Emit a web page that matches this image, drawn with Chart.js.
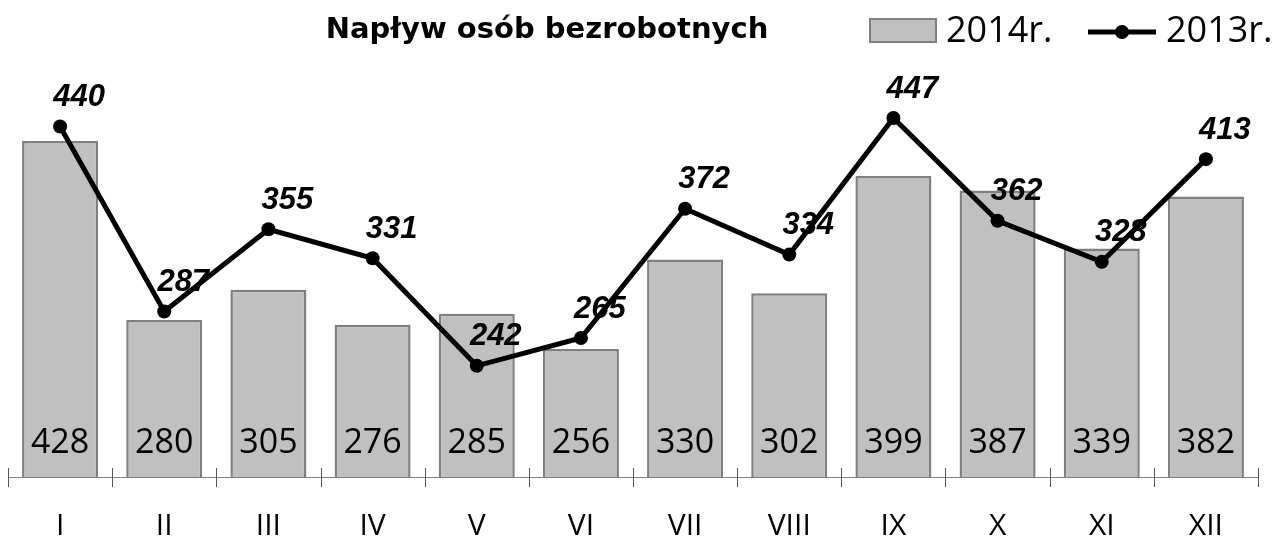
<!DOCTYPE html>
<html lang="pl">
<head>
<meta charset="utf-8">
<title>Napływ osób bezrobotnych</title>
<script src="https://cdn.jsdelivr.net/npm/chart.js@4.4.1/dist/chart.umd.min.js"></script>
<style>
  html, body { margin: 0; padding: 0; background: #fff; }
  #wrap { position: relative; width: 1285px; height: 538px; }
</style>
</head>
<body>
<div id="wrap"><canvas id="inflowChart" width="1285" height="538"></canvas></div>
<script>
// ---- data ----
const months = ["I", "II", "III", "IV", "V", "VI", "VII", "VIII", "IX", "X", "XI", "XII"];
const inflow2014 = [428, 280, 305, 276, 285, 256, 330, 302, 399, 387, 339, 382];
const inflow2013 = [440, 287, 355, 331, 242, 265, 372, 334, 447, 362, 328, 413];
const chartTitle = "Napływ osób bezrobotnych";
const seriesNames = ["2014r.", "2013r."];

const BAR_FILL = "#c0c0c0";
const BAR_EDGE = "#808080";
const LINE_COL = "#000000";

// tick marks between categories, crossing the axis line
const crossTicks = {
    id: 'crossTicks',
    afterDraw(chart) {
        const x = chart.scales.x, ctx = chart.ctx;
        const half = (x.getPixelForValue(1) - x.getPixelForValue(0)) / 2;
        const yb = chart.chartArea.bottom;
        ctx.save();
        ctx.strokeStyle = '#555';
        ctx.lineWidth = 1;
        for (let i = 0; i <= months.length; i++) {
            const px = Math.round(x.getPixelForValue(i) - half) + 0.5;
            ctx.beginPath();
            ctx.moveTo(px, yb - 9);
            ctx.lineTo(px, yb + 10);
            ctx.stroke();
        }
        ctx.restore();
    }
};

// value labels: plain ones at the foot of bars, bold italic above line points
const valueLabels = {
    id: 'valueLabels',
    afterDatasetsDraw(chart) {
        const ctx = chart.ctx;
        const bars = chart.getDatasetMeta(0).data;
        const pts = chart.getDatasetMeta(1).data;
        ctx.save();
        ctx.fillStyle = '#000';
        ctx.textAlign = 'center';
        ctx.textBaseline = 'middle';
        ctx.font = '34px "Open Sans"';
        bars.forEach((b, i) => ctx.fillText(inflow2014[i], b.x, chart.chartArea.bottom - 34));
        ctx.font = 'italic bold 31px "Liberation Sans"';
        pts.forEach((p, i) => ctx.fillText(inflow2013[i], p.x + 19, p.y - 29));
        ctx.restore();
    }
};

// title and legend share one row at the top
const headerRow = {
    id: 'headerRow',
    afterDraw(chart) {
        const ctx = chart.ctx;
        ctx.save();
        ctx.fillStyle = '#000';
        ctx.textBaseline = 'middle';
        ctx.textAlign = 'center';
        ctx.font = 'bold 29px "DejaVu Sans"';
        ctx.fillText(chartTitle, 547, 30);

        // bar key
        ctx.fillStyle = BAR_FILL;
        ctx.strokeStyle = BAR_EDGE;
        ctx.lineWidth = 2;
        ctx.fillRect(870, 19, 66, 23);
        ctx.strokeRect(870, 19, 66, 23);
        ctx.fillStyle = '#000';
        ctx.textAlign = 'left';
        ctx.font = '36px "Open Sans"';
        ctx.fillText(seriesNames[0], 946, 32);

        // line key
        ctx.strokeStyle = LINE_COL;
        ctx.lineWidth = 5;
        ctx.beginPath();
        ctx.moveTo(1088, 32);
        ctx.lineTo(1156, 32);
        ctx.stroke();
        ctx.beginPath();
        ctx.arc(1122, 32, 7, 0, Math.PI * 2);
        ctx.fill();
        ctx.fillText(seriesNames[1], 1166, 32);
        ctx.restore();
    }
};

new Chart(document.getElementById('inflowChart'), {
    data: {
        labels: months,
        datasets: [{
            type: 'bar',
            label: seriesNames[0],
            data: inflow2014,
            backgroundColor: BAR_FILL,
            borderColor: BAR_EDGE,
            borderWidth: 2.5,
            categoryPercentage: 1,
            barPercentage: 0.73,
            order: 2
        }, {
            type: 'line',
            label: seriesNames[1],
            data: inflow2013,
            borderColor: LINE_COL,
            backgroundColor: LINE_COL,
            borderWidth: 5,
            pointRadius: 7,
            pointBackgroundColor: LINE_COL,
            pointBorderWidth: 0,
            tension: 0,
            order: 1
        }]
    },
    options: {
        responsive: false,
        animation: false,
        layout: { padding: { top: 54, left: 8, right: 27, bottom: 0 } },
        scales: {
            x: {
                offset: true,
                grid: { display: false, drawTicks: false },
                border: { display: true, color: BAR_EDGE, width: 1 },
                ticks: { color: '#000', font: { family: 'Open Sans', size: 30 }, padding: 31 },
                afterFit(s) { s.height = 61; }
            },
            y: {
                display: false,
                min: 150,
                max: 500
            }
        },
        plugins: {
            legend: { display: false },
            title: { display: false },
            tooltip: { enabled: false }
        }
    },
    plugins: [crossTicks, valueLabels, headerRow]
});
</script>
</body>
</html>
